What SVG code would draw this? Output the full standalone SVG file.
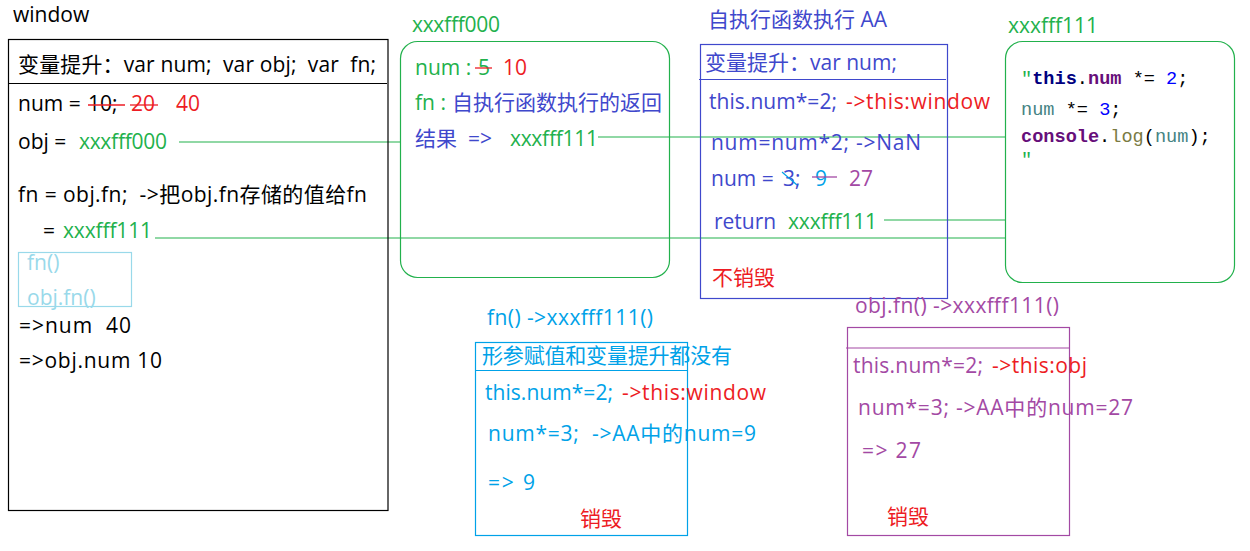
<svg xmlns="http://www.w3.org/2000/svg" width="1250" height="551" viewBox="0 0 1250 551">
<style>
text{font-family:"Open Sans","Noto Sans CJK SC",sans-serif;font-size:21px;white-space:pre}
.k{fill:#000}.g{fill:#22b14c}.b{fill:#3f48cc}.r{fill:#ed1c24}.c{fill:#00a2e8}.p{fill:#a349a4}.lb{fill:#99d9ea}
.box{fill:none;stroke-width:1.2}
.code{font-family:"Liberation Mono","DejaVu Sans Mono",monospace;font-size:18.6px}
.bold{font-weight:bold}
</style>
<rect width="1250" height="551" fill="#fff"/>
<g id="connectors" stroke="#22b14c" stroke-width="1.2" fill="none">
<line x1="179" y1="142" x2="400" y2="142"/>
<line x1="598" y1="137" x2="1005" y2="137"/>
<line x1="155" y1="238" x2="1005" y2="238"/>
<line x1="884" y1="220" x2="1005" y2="220"/>
</g>
<g id="window">
<text x="13" y="22" class="k">window</text>
<rect x="8.5" y="39.5" width="379.5" height="471" class="box" stroke="#000"/>
<line x1="8" y1="83.5" x2="387" y2="83.5" stroke="#000" stroke-width="1.2"/>
<text x="18" y="72" class="k" textLength="358">变量提升：var num;  var obj;  var  fn;</text>
<text y="111"><tspan x="18" class="k">num =</tspan><tspan x="88" class="k">10;</tspan><tspan x="131" class="r">20</tspan><tspan x="176" class="r">40</tspan></text>
<line x1="88" y1="105" x2="125" y2="105" stroke="#ed1c24" stroke-width="1.3"/>
<line x1="130" y1="105" x2="158" y2="105" stroke="#ed1c24" stroke-width="1.3"/>
<text y="149"><tspan x="18" class="k">obj =</tspan><tspan x="79" class="g" textLength="88">xxxfff000</tspan></text>
<text x="18" y="202" class="k" textLength="349">fn = obj.fn;  -&gt;把obj.fn存储的值给fn</text>
<text y="238"><tspan x="43" class="k">=</tspan><tspan x="63" class="g" textLength="89">xxxfff111</tspan></text>
<rect x="18.5" y="252.5" width="113" height="54" fill="none" stroke="#99d9ea" stroke-width="1.2"/>
<text x="27" y="270" class="lb">fn()</text>
<text x="27" y="305" class="lb">obj.fn()</text>
<text x="19" y="333" class="k" textLength="112">=&gt;num  40</text>
<text x="19" y="368" class="k" textLength="143">=&gt;obj.num 10</text>
</g>
<g id="obj-xxxfff000">
<text x="412" y="32" class="g" textLength="88">xxxfff000</text>
<rect x="400.5" y="41.5" width="269" height="236" rx="17" class="box" stroke="#22b14c"/>
<text y="75"><tspan x="415" class="g">num :</tspan><tspan x="478" class="g">5</tspan><tspan x="503" class="r">10</tspan></text>
<line x1="475" y1="68" x2="492" y2="68" stroke="#ed1c24" stroke-width="1.3"/>
<text y="110"><tspan x="415" class="g">fn :</tspan><tspan x="452" class="b">自执行函数执行的返回</tspan></text>
<text y="146"><tspan x="415" class="b">结果  =&gt;</tspan><tspan x="510" class="g" textLength="88">xxxfff111</tspan></text>
</g>
<g id="aa">
<text x="708" y="27" class="b">自执行函数执行 AA</text>
<rect x="700.5" y="44.5" width="247" height="254" class="box" stroke="#3f48cc"/>
<line x1="699" y1="79.5" x2="946" y2="79.5" stroke="#3f48cc" stroke-width="1.2"/>
<text x="705" y="70" class="b">变量提升：var num;</text>
<text y="109"><tspan x="709" class="b" textLength="128">this.num*=2;</tspan><tspan x="846" class="r" textLength="144">-&gt;this:window</tspan></text>
<text x="711" y="150" class="b" textLength="210">num=num*2; -&gt;NaN</text>
<text y="186"><tspan x="711" class="b">num =</tspan><tspan x="783" class="b">3;</tspan><tspan x="815" class="c">9</tspan><tspan x="849" class="p">27</tspan></text>
<line x1="782" y1="172" x2="797" y2="185" stroke="#00a2e8" stroke-width="1.2"/>
<line x1="812" y1="177" x2="837" y2="177" stroke="#a349a4" stroke-width="1.3"/>
<text y="229"><tspan x="714" class="b">return</tspan><tspan x="788" class="g" textLength="89">xxxfff111</tspan></text>
<text x="712" y="285" class="r">不销毁</text>
</g>
<g id="fn-xxxfff111">
<text x="1008" y="33" class="g" textLength="90">xxxfff111</text>
<rect x="1005.5" y="41.5" width="229" height="241" rx="17" class="box" stroke="#22b14c"/>
<text x="1021" y="84" class="code"><tspan fill="#22b14c">"</tspan><tspan fill="#000080" class="bold">this</tspan><tspan fill="#000">.</tspan><tspan fill="#660e7a" class="bold">num</tspan><tspan fill="#000"> *= </tspan><tspan fill="#0000ff">2</tspan><tspan fill="#000">;</tspan></text>
<text x="1021" y="115" class="code"><tspan fill="#458383">num</tspan><tspan fill="#000"> *= </tspan><tspan fill="#0000ff">3</tspan><tspan fill="#000">;</tspan></text>
<text x="1021" y="142" class="code"><tspan fill="#660e7a" class="bold">console</tspan><tspan fill="#000">.</tspan><tspan fill="#7a7a43">log</tspan><tspan fill="#000">(</tspan><tspan fill="#458383">num</tspan><tspan fill="#000">);</tspan></text>
<text x="1021" y="165" class="code"><tspan fill="#22b14c">"</tspan></text>
</g>
<g id="call-fn">
<text x="487" y="325" class="c" textLength="166">fn() -&gt;xxxfff111()</text>
<rect x="475.5" y="342.5" width="212" height="193" class="box" stroke="#00a2e8"/>
<line x1="475" y1="370.5" x2="688" y2="370.5" stroke="#00a2e8" stroke-width="1.2"/>
<text x="482" y="363" class="c" textLength="250">形参赋值和变量提升都没有</text>
<text y="400"><tspan x="485" class="c" textLength="128">this.num*=2;</tspan><tspan x="622" class="r" textLength="144">-&gt;this:window</tspan></text>
<text x="488" y="441" class="c" textLength="268">num*=3;  -&gt;AA中的num=9</text>
<text x="488" y="490" class="c" textLength="47">=&gt; 9</text>
<text x="580" y="526" class="r">销毁</text>
</g>
<g id="call-objfn">
<text x="855" y="313" class="p" textLength="204">obj.fn() -&gt;xxxfff111()</text>
<rect x="847.5" y="327.5" width="222" height="208" class="box" stroke="#a349a4"/>
<line x1="846" y1="348" x2="1070" y2="348" stroke="#a349a4" stroke-width="1.2"/>
<text y="373"><tspan x="853" class="p" textLength="130">this.num*=2;</tspan><tspan x="992" class="r" textLength="95">-&gt;this:obj</tspan></text>
<text x="858" y="415" class="p" textLength="275">num*=3; -&gt;AA中的num=27</text>
<text x="862" y="458" class="p" textLength="59">=&gt; 27</text>
<text x="887" y="524" class="r">销毁</text>
</g>
</svg>
